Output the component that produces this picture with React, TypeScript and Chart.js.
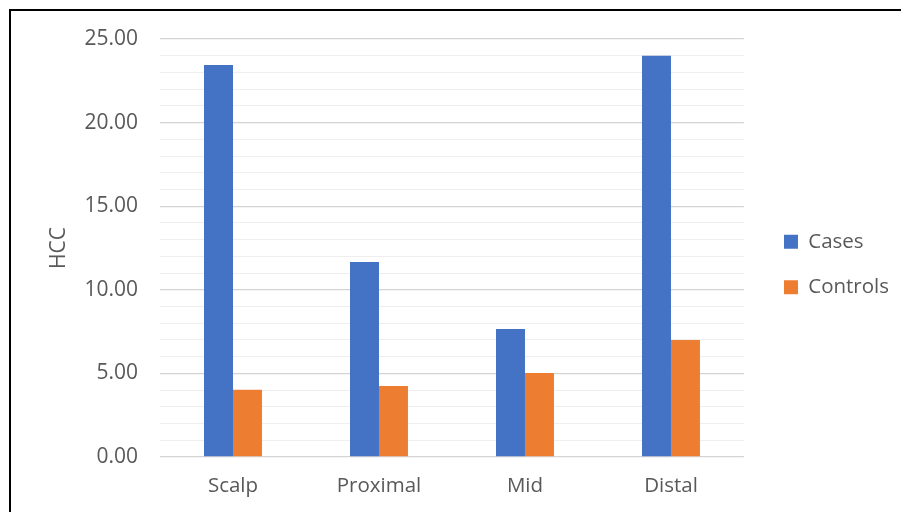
import React, { useEffect, useRef } from "react";
import { Chart, registerables } from "chart.js";

Chart.register(...registerables);

const categories = ["Scalp", "Proximal", "Mid", "Distal"];
const seriesNames = ["Cases", "Controls"];
const casesValues = [23.45, 11.67, 7.65, 24.0];
const controlsValues = [4.02, 4.25, 5.03, 7.0];
const yTickLabels = ["0.00", "5.00", "10.00", "15.00", "20.00", "25.00"];
const yAxisTitle = "HCC";

const FONT = "'Open Sans', 'Noto Sans', sans-serif";
const TEXT = "#595959";

const legendShift = {
  id: "legendShift",
  afterLayout(chart: any) {
    const l = chart.legend;
    if (l) {
      l.left += 15;
      l.right += 15;
      l.top -= 5;
      l.bottom -= 5;
    }
  },
};

export default function App() {
  const ref = useRef<HTMLCanvasElement | null>(null);

  useEffect(() => {
    if (!ref.current) return;
    const chart = new Chart(ref.current, {
      type: "bar",
      data: {
        labels: categories,
        datasets: [
          {
            label: seriesNames[0],
            data: casesValues,
            backgroundColor: "#4472C4",
            borderWidth: 0,
          },
          {
            label: seriesNames[1],
            data: controlsValues,
            backgroundColor: "#ED7D31",
            borderWidth: 0,
          },
        ],
      },
      options: {
        responsive: false,
        animation: false,
        layout: { padding: { left: 32, right: 17, top: 28, bottom: 12 } },
        datasets: {
          bar: { categoryPercentage: 0.397, barPercentage: 1 },
        },
        plugins: {
          tooltip: { enabled: false },
          legend: {
            position: "right",
            labels: {
              boxWidth: 14,
              boxHeight: 14,
              padding: 25,
              color: TEXT,
              font: { family: FONT, size: 20.5 },
            },
          },
        },
        scales: {
          x: {
            grid: { display: false, drawTicks: false },
            border: { display: false },
            afterFit: (s: any) => {
              s.height = 43;
              s.paddingLeft = 0;
              s.paddingRight = 0;
            },
            ticks: {
              color: TEXT,
              padding: 17,
              font: { family: FONT, size: 20.5 },
            },
          },
          y: {
            min: 0,
            max: 25,
            border: { display: false },
            afterFit: (s: any) => {
              s.width = 117;
              s.paddingTop = 0;
              s.paddingBottom = 0;
            },
            grid: {
              drawTicks: false,
              color: (ctx: any) =>
                ctx.tick && ctx.tick.value % 5 === 0 ? "#d4d4d4" : "#eeeeee",
              lineWidth: (ctx: any) =>
                ctx.tick && ctx.tick.value % 5 === 0 ? 1.3 : 1,
            },
            title: {
              display: true,
              text: yAxisTitle,
              color: TEXT,
              font: { family: FONT, size: 21 },
              padding: { top: 3, bottom: 4 },
            },
            ticks: {
              stepSize: 1,
              autoSkip: false,
              padding: 22,
              color: TEXT,
              font: { family: FONT, size: 21 },
              callback: (v: any) =>
                Number(v) % 5 === 0 ? yTickLabels[Number(v) / 5] : "",
            },
          },
        },
      },
      plugins: [legendShift],
    });
    return () => chart.destroy();
  }, []);

  return (
    <div
      style={{
        position: "fixed",
        left: 0,
        top: 0,
        right: 0,
        bottom: 0,
        overflow: "hidden",
        background: "#fff",
      }}
    >
      <div
        style={{
          position: "absolute",
          left: 9,
          top: 9,
          width: 920,
          height: 540,
          border: "2px solid #000",
        }}
      >
        <canvas
          ref={ref}
          width={890}
          height={501}
          style={{ display: "block", width: 890, height: 501 }}
        />
      </div>
    </div>
  );
}
